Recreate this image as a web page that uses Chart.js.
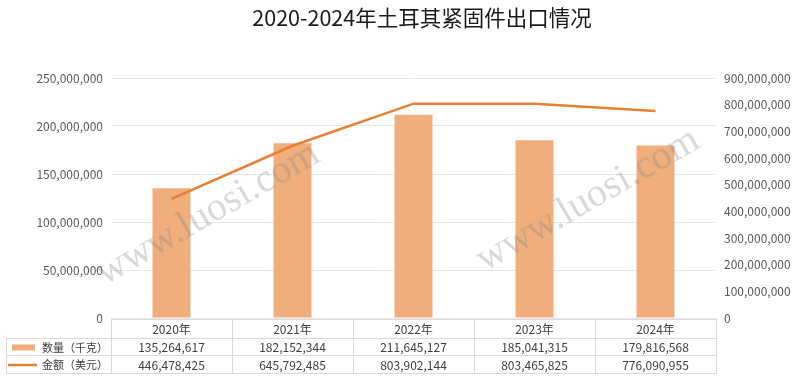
<!DOCTYPE html>
<html>
<head>
<meta charset="utf-8">
<script src="https://cdn.jsdelivr.net/npm/chart.js@4/dist/chart.umd.min.js"></script>
<style>
  html, body { margin: 0; padding: 0; background: #fff; }
  #wrap { width: 800px; height: 383px; }
</style>
</head>
<body>
<div id="wrap"><canvas id="c" width="800" height="383"></canvas></div>
<script>
const years = ['2020年', '2021年', '2022年', '2023年', '2024年'];
const qtyValues = [135264617, 182152344, 211645127, 185041315, 179816568];
const amountValues = [446478425, 645792485, 803902144, 803465825, 776090955];
const qtyLabel = '数量（千克）';
const amountLabel = '金额（美元）';
const titleText = '2020-2024年土耳其紧固件出口情况';
const watermarkText = 'www.luosi.com';

const barColor = '#EFAE7C';
const lineColor = '#E97F35';
const tickColor = '#595959';
const gridColor = '#E6E6E6';
const tableBorder = '#D9D9D9';
const cjkFont = '"Noto Sans CJK SC", "Noto Sans", sans-serif';

function fmt(v) { return Number(v).toLocaleString('en-US'); }

// titulo, marca de agua y tabla de datos bajo el grafico
const extrasPlugin = {
  id: 'extras',
  afterDatasetsDraw(chart) {
    const ctx = chart.ctx;
    ctx.save();
    ctx.fillStyle = 'rgba(140, 140, 140, 0.33)';
    ctx.font = '40px "Liberation Serif", "DejaVu Serif", serif';
    ctx.textAlign = 'center';
    ctx.textBaseline = 'middle';
    [[208, 214], [588, 200]].forEach(([x, y]) => {
      ctx.save();
      ctx.translate(x, y);
      ctx.rotate(-30 * Math.PI / 180);
      ctx.fillText(watermarkText, 0, 0);
      ctx.restore();
    });
    ctx.restore();
  },
  afterDraw(chart) {
    const ctx = chart.ctx;
    const area = chart.chartArea;
    const xs = chart.scales.x;

    ctx.save();
    // titulo
    ctx.fillStyle = '#1A1A1A';
    ctx.font = '21.5px ' + cjkFont;
    ctx.textAlign = 'center';
    ctx.textBaseline = 'middle';
    ctx.fillText(titleText, 422, 18);

    // tabla
    const step = (area.right - area.left) / years.length;
    const rows = [area.bottom + 1, area.bottom + 20, area.bottom + 37, area.bottom + 55];
    const leftEdge = 6.5;
    ctx.strokeStyle = tableBorder;
    ctx.lineWidth = 1;
    ctx.beginPath();
    ctx.moveTo(area.left, rows[0] + 0.5); ctx.lineTo(area.right + 1, rows[0] + 0.5);
    for (let r = 1; r < rows.length; r++) {
      ctx.moveTo(leftEdge, rows[r] + 0.5); ctx.lineTo(area.right + 1, rows[r] + 0.5);
    }
    for (let i = 0; i <= years.length; i++) {
      const x = Math.round(area.left + i * step) + 0.5;
      ctx.moveTo(x, rows[0]); ctx.lineTo(x, rows[3] + 0.5);
    }
    ctx.moveTo(leftEdge, rows[1]); ctx.lineTo(leftEdge, rows[3] + 0.5);
    ctx.stroke();

    ctx.fillStyle = '#404040';
    ctx.font = '12px ' + cjkFont;
    ctx.textAlign = 'center';
    years.forEach((y, i) => {
      const cx = xs.getPixelForValue(i);
      ctx.fillText(y, cx, (rows[0] + rows[1]) / 2 + 1);
      ctx.fillText(fmt(qtyValues[i]), cx, (rows[1] + rows[2]) / 2 + 1);
      ctx.fillText(fmt(amountValues[i]), cx, (rows[2] + rows[3]) / 2 + 1);
    });

    // leyenda dentro de la tabla
    const y2 = (rows[1] + rows[2]) / 2 + 1;
    const y3 = (rows[2] + rows[3]) / 2 + 1;
    ctx.fillStyle = barColor;
    ctx.fillRect(12, y2 - 3, 23, 6);
    ctx.strokeStyle = lineColor;
    ctx.lineWidth = 2.5;
    ctx.beginPath();
    ctx.moveTo(8, y3); ctx.lineTo(37, y3);
    ctx.stroke();
    ctx.fillStyle = '#404040';
    ctx.font = '11px ' + cjkFont;
    ctx.textAlign = 'left';
    ctx.fillText(qtyLabel, 42, y2);
    ctx.fillText(amountLabel, 42, y3);
    ctx.restore();
  }
};

new Chart(document.getElementById('c'), {
  data: {
    labels: years,
    datasets: [
      {
        type: 'line',
        label: amountLabel,
        data: amountValues,
        yAxisID: 'y1',
        borderColor: lineColor,
        borderWidth: 2.5,
        pointRadius: 0,
        tension: 0,
        order: 0
      },
      {
        type: 'bar',
        label: qtyLabel,
        data: qtyValues,
        yAxisID: 'y',
        backgroundColor: barColor,
        barPercentage: 0.314,
        categoryPercentage: 1,
        order: 1
      }
    ]
  },
  options: {
    responsive: false,
    animation: false,
    layout: { padding: { top: 78, bottom: 65, left: 0, right: 0 } },
    plugins: {
      legend: { display: false },
      title: { display: false },
      tooltip: { enabled: false }
    },
    scales: {
      x: { display: false, offset: true },
      y: {
        position: 'left',
        min: 0,
        max: 250000000,
        ticks: {
          stepSize: 50000000,
          color: tickColor,
          padding: 8,
          font: { family: cjkFont, size: 12 },
          callback: v => fmt(v)
        },
        grid: { color: gridColor, drawTicks: false },
        border: { display: false },
        afterFit(scale) { scale.width = 111; }
      },
      y1: {
        position: 'right',
        min: 0,
        max: 900000000,
        ticks: {
          stepSize: 100000000,
          color: tickColor,
          padding: 8,
          font: { family: cjkFont, size: 12 },
          callback: v => fmt(v)
        },
        grid: { display: false, drawTicks: false },
        border: { display: false },
        afterFit(scale) { scale.width = 84; }
      }
    }
  },
  plugins: [extrasPlugin]
});
</script>
</body>
</html>
